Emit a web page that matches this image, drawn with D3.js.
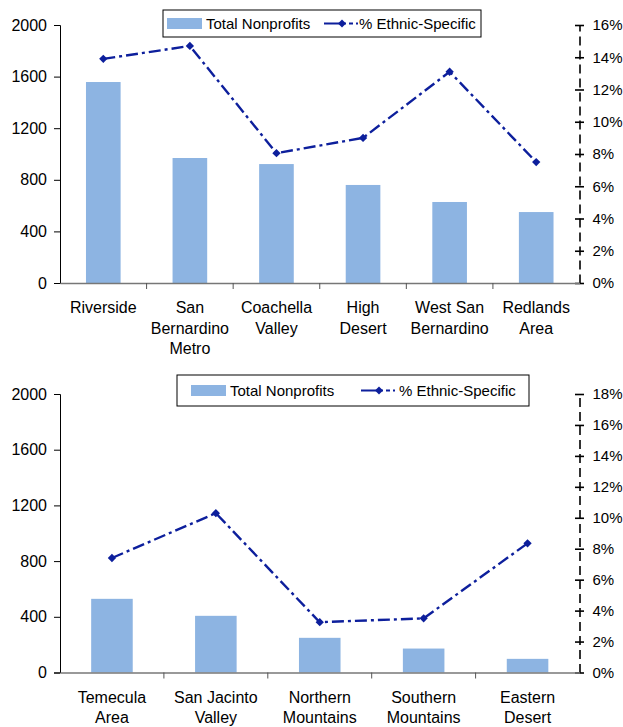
<!DOCTYPE html>
<html>
<head>
<meta charset="utf-8">
<script src="https://cdn.jsdelivr.net/npm/d3@7"></script>
<style>
  body { margin: 0; background: #fff; }
  svg { font-family: "Liberation Sans", Arial, sans-serif; }
  svg text { font-family: "Liberation Sans", Arial, sans-serif; }
</style>
</head>
<body>
<svg id="chart" width="623" height="727"></svg>
<script>
// top panel
const regionsA = [["Riverside"], ["San", "Bernardino", "Metro"], ["Coachella", "Valley"],
                  ["High", "Desert"], ["West San", "Bernardino"], ["Redlands", "Area"]];
const totalsA = [1558, 969, 922, 760, 628, 550];
const ethnicA = [13.9, 14.7, 8.05, 9.0, 13.1, 7.5];
const pctTicksA = [0, 2, 4, 6, 8, 10, 12, 14, 16];

// bottom panel
const regionsB = [["Temecula", "Area"], ["San Jacinto", "Valley"], ["Northern", "Mountains"],
                  ["Southern", "Mountains"], ["Eastern", "Desert"]];
const totalsB = [529, 407, 249, 172, 98];
const ethnicB = [7.4, 10.3, 3.25, 3.5, 8.35];
const pctTicksB = [0, 2, 4, 6, 8, 10, 12, 14, 16, 18];

const countTicks = [0, 400, 800, 1200, 1600, 2000];

const barColor = "#8DB4E2";
const lineColor = "#0D1F9C";
const lineDash = "12,4,3,4";

const svg = d3.select("#chart");

function drawPanel(cfg){
	const g = svg.append("g");
	const x = d3.scaleBand()
				.domain(cfg.regions.map((d, i) => i))
				.range([cfg.left, cfg.right]);
	const y = d3.scaleLinear()
				.domain([0, 2000])
				.range([cfg.bottom, cfg.top]);
	const yPct = d3.scaleLinear()
				.domain([0, d3.max(cfg.pctTicks)])
				.range([cfg.bottom, cfg.top]);
	const barW = x.bandwidth() * 0.4;

	// bars
	g.selectAll("rect.bar")
		.data(cfg.totals)
		.join("rect")
		.attr("class", "bar")
		.attr("x", (d, i) => x(i) + (x.bandwidth() - barW) / 2)
		.attr("y", d => y(d))
		.attr("width", barW)
		.attr("height", d => cfg.bottom - y(d))
		.attr("fill", barColor);

	// left axis
	const left = g.append("g")
		.attr("transform", "translate(" + cfg.left + ",0)")
		.call(d3.axisLeft(y).tickValues(countTicks).tickSize(6).tickPadding(7).tickFormat(d3.format("d")));
	left.select(".domain").attr("stroke", "#000");
	left.selectAll("text").attr("font-size", 16).attr("fill", "#000");

	// right axis (dashed, cross ticks)
	const right = g.append("g")
		.attr("transform", "translate(" + cfg.right + ",0)")
		.call(d3.axisRight(yPct).tickValues(cfg.pctTicks).tickSize(0).tickPadding(13)
			.tickFormat(d => d + "%"));
	right.select(".domain").attr("stroke", "#000").attr("stroke-width", 1.6).attr("stroke-dasharray", "9,5");
	right.selectAll(".tick line").attr("x1", -4.5).attr("x2", 4.5).attr("stroke", "#000").attr("stroke-width", 1.6);
	right.selectAll("text").attr("font-size", 15).attr("fill", "#000");

	// x axis
	const bottom = g.append("g")
		.attr("transform", "translate(0," + cfg.bottom + ")")
		.call(d3.axisBottom(x).tickSize(0).tickFormat(""));
	bottom.select(".domain").attr("stroke", "#777").attr("stroke-width", 1.5);
	bottom.selectAll(".tick").remove();
	bottom.selectAll("line.sep")
		.data(cfg.regions.slice(1))
		.join("line")
		.attr("class", "sep")
		.attr("x1", (d, i) => x(i + 1))
		.attr("x2", (d, i) => x(i + 1))
		.attr("y1", 0)
		.attr("y2", 6)
		.attr("stroke", "#555");

	// category labels
	const labels = g.selectAll("text.cat")
		.data(cfg.regions)
		.join("text")
		.attr("class", "cat")
		.attr("text-anchor", "middle")
		.attr("font-size", 16)
		.attr("fill", "#000")
		.attr("transform", (d, i) => "translate(" + (x(i) + x.bandwidth() / 2) + "," + (cfg.bottom + 30) + ")");
	labels.selectAll("tspan")
		.data(d => d)
		.join("tspan")
		.attr("x", 0)
		.attr("y", (d, i) => i * 20.5)
		.text(d => d);

	// line series
	const line = d3.line()
		.x((d, i) => x(i) + x.bandwidth() / 2)
		.y(d => yPct(d));
	g.append("path")
		.datum(cfg.ethnic)
		.attr("d", line)
		.attr("fill", "none")
		.attr("stroke", lineColor)
		.attr("stroke-width", 2.4)
		.attr("stroke-dasharray", lineDash);
	g.selectAll("path.mark")
		.data(cfg.ethnic)
		.join("path")
		.attr("class", "mark")
		.attr("d", d3.symbol(d3.symbolDiamond2, 44))
		.attr("transform", (d, i) => "translate(" + (x(i) + x.bandwidth() / 2) + "," + yPct(d) + ")")
		.attr("fill", lineColor);

	// legend
	const L = cfg.legend;
	const lg = g.append("g").attr("transform", "translate(" + L.x + "," + L.y + ")");
	const h = L.h;
	lg.append("rect")
		.attr("width", L.w).attr("height", h)
		.attr("fill", "#fff").attr("stroke", "#000").attr("stroke-width", 1);
	lg.append("rect")
		.attr("x", L.sw).attr("y", h / 2 - 5.5)
		.attr("width", 35).attr("height", 11)
		.attr("fill", barColor);
	lg.append("text")
		.attr("x", L.sw + 39).attr("y", h / 2)
		.attr("dy", "0.35em").attr("font-size", 15)
		.text("Total Nonprofits");
	lg.append("line")
		.attr("x1", L.lx).attr("x2", L.lx + 34)
		.attr("y1", h / 2).attr("y2", h / 2)
		.attr("stroke", lineColor).attr("stroke-width", 2)
		.attr("stroke-dasharray", "22,3,4,3,4");
	lg.append("path")
		.attr("d", d3.symbol(d3.symbolDiamond2, 40))
		.attr("transform", "translate(" + (L.lx + 18) + "," + (h / 2) + ")")
		.attr("fill", lineColor);
	lg.append("text")
		.attr("x", L.tx).attr("y", h / 2)
		.attr("dy", "0.35em").attr("font-size", 15)
		.text("% Ethnic-Specific");
}

drawPanel({
	regions: regionsA, totals: totalsA, ethnic: ethnicA, pctTicks: pctTicksA,
	left: 60, right: 579.5, top: 25, bottom: 283,
	legend: {x: 163, y: 10, w: 318, h: 27, sw: 4, lx: 161, tx: 196}
});

drawPanel({
	regions: regionsB, totals: totalsB, ethnic: ethnicB, pctTicks: pctTicksB,
	left: 60, right: 579.5, top: 394, bottom: 672.5,
	legend: {x: 177, y: 375, w: 352, h: 31, sw: 14, lx: 184, tx: 222}
});
</script>
</body>
</html>
